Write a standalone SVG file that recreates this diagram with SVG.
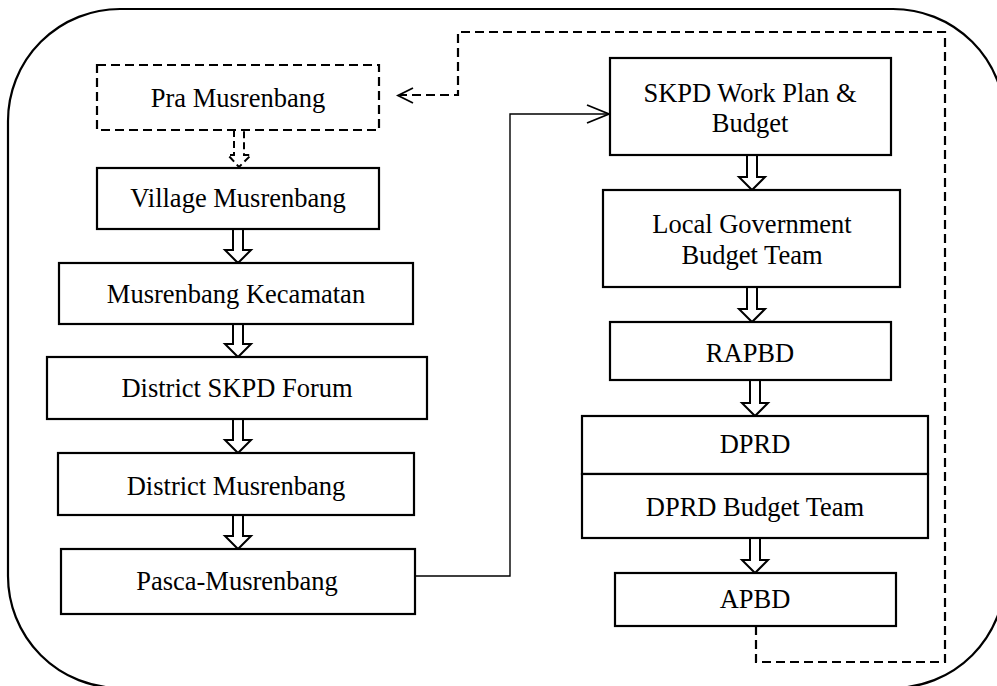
<svg xmlns="http://www.w3.org/2000/svg" width="997" height="686" viewBox="0 0 997 686">
<style>
  .box { fill: #fff; stroke: #000; stroke-width: 2.2; }
  .dbox { fill: #fff; stroke: #000; stroke-width: 2.2; stroke-dasharray: 9 5; }
  .lbl { font-family: "Liberation Serif", "Times New Roman", serif; font-size: 26.5px; fill: #000; text-anchor: middle; }
  .blk { fill: #fff; stroke: #000; stroke-width: 2; stroke-linejoin: miter; }
  .dblk { fill: #fff; stroke: #000; stroke-width: 2; stroke-dasharray: 7 4; }
  .thin { fill: none; stroke: #000; stroke-width: 1.4; }
  .dash { fill: none; stroke: #000; stroke-width: 2.2; stroke-dasharray: 9 5; }
  .chev { fill: none; stroke: #000; stroke-width: 1.8; }
</style>
<rect width="997" height="686" fill="#fff"/>
<rect id="frame" x="8" y="9" width="997" height="679" rx="112" ry="112" fill="none" stroke="#000" stroke-width="2.2"/>

<g id="connectors">
  <path class="dblk" d="M234,130 V155 H228 L239,167 L251,155 H244 V130"/>
  <path class="blk" d="M233,229 V250 H225 L238,263 L251,250 H243 V229"/>
  <path class="blk" d="M233,324 V344 H225 L238,357 L251,344 H243 V324"/>
  <path class="blk" d="M233,419 V440 H225 L238,453 L251,440 H243 V419"/>
  <path class="blk" d="M233,515 V536 H225 L238,549 L251,536 H243 V515"/>
  <path class="blk" d="M747,155 V177 H739 L752,190 L765,177 H757 V155"/>
  <path class="blk" d="M747,287 V309 H739 L752,322 L765,309 H757 V287"/>
  <path class="blk" d="M750,380 V403 H742 L755,416 L768,403 H760 V380"/>
  <path class="blk" d="M750,538 V560 H742 L755,573 L768,560 H760 V538"/>
  <path class="thin" d="M415,576 H510 V114 H608"/>
  <path class="chev" d="M587,105 L609,114 L587,123"/>
  <path class="dash" d="M756,626 V662 H945 V32 H458 V95 H400"/>
  <path class="chev" d="M413,88 L398,95.5 L413,103"/>
</g>

<g id="pra">
  <rect class="dbox" x="97" y="65" width="282" height="65"/>
  <text class="lbl" x="238" y="107">Pra Musrenbang</text>
</g>
<g id="village">
  <rect class="box" x="97" y="168" width="282" height="61"/>
  <text class="lbl" x="238" y="207">Village Musrenbang</text>
</g>
<g id="kecamatan">
  <rect class="box" x="59" y="263" width="354" height="61"/>
  <text class="lbl" x="236" y="303">Musrenbang Kecamatan</text>
</g>
<g id="forum">
  <rect class="box" x="47" y="357" width="380" height="62"/>
  <text class="lbl" x="237" y="397">District SKPD Forum</text>
</g>
<g id="district">
  <rect class="box" x="58" y="453" width="356" height="62"/>
  <text class="lbl" x="236" y="495">District Musrenbang</text>
</g>
<g id="pasca">
  <rect class="box" x="61" y="549" width="354" height="65"/>
  <text class="lbl" x="237" y="590">Pasca-Musrenbang</text>
</g>

<g id="skpd">
  <rect class="box" x="610" y="58" width="281" height="97"/>
  <text class="lbl" x="750" y="102">SKPD Work Plan &amp;</text>
  <text class="lbl" x="750" y="132">Budget</text>
</g>
<g id="lgbt">
  <rect class="box" x="603" y="190" width="297" height="97"/>
  <text class="lbl" x="752" y="233">Local Government</text>
  <text class="lbl" x="752" y="264">Budget Team</text>
</g>
<g id="rapbd">
  <rect class="box" x="610" y="322" width="281" height="58"/>
  <text class="lbl" x="750" y="362">RAPBD</text>
</g>
<g id="dprd">
  <rect class="box" x="582" y="416" width="346" height="58"/>
  <text class="lbl" x="755" y="453">DPRD</text>
</g>
<g id="dprdbt">
  <rect class="box" x="582" y="474" width="346" height="64"/>
  <text class="lbl" x="755" y="516">DPRD Budget Team</text>
</g>
<g id="apbd">
  <rect class="box" x="615" y="573" width="281" height="53"/>
  <text class="lbl" x="755" y="608">APBD</text>
</g>
</svg>
